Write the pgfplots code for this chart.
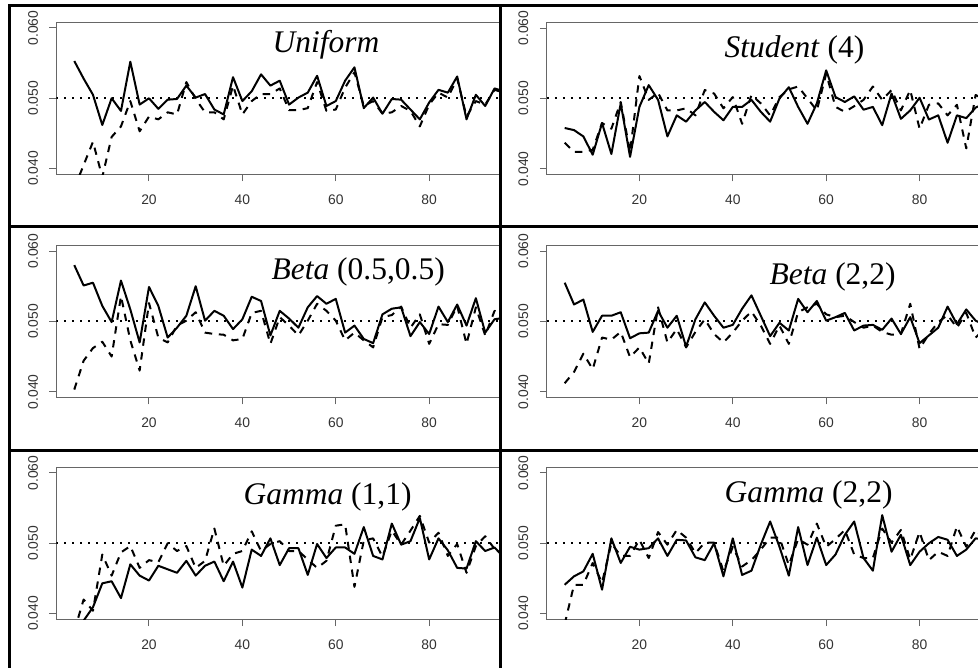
\documentclass[border=0pt]{standalone}
\usepackage{fontspec}
\setmainfont{Liberation Serif}
\newfontfamily\tickfont{Liberation Sans}
\usepackage{pgfplots}
\usepackage{pgfplotstable}
\pgfplotsset{compat=1.18}

% n, solid (a), dashed (b)
\pgfplotstableread{
n a b
4 0.0553 0.0372
6 0.0528 0.0405
8 0.0505 0.0438
10 0.0462 0.0388
12 0.0500 0.0445
14 0.0482 0.0460
16 0.0552 0.0496
18 0.0491 0.0453
20 0.0500 0.0474
22 0.0485 0.0470
24 0.0498 0.0480
26 0.0499 0.0477
28 0.0518 0.0523
30 0.0501 0.0499
32 0.0506 0.0480
34 0.0484 0.0480
36 0.0477 0.0470
38 0.0530 0.0518
40 0.0496 0.0477
42 0.0510 0.0496
44 0.0534 0.0506
46 0.0518 0.0506
48 0.0525 0.0514
50 0.0491 0.0483
52 0.0501 0.0483
54 0.0508 0.0486
56 0.0532 0.0523
58 0.0489 0.0482
60 0.0496 0.0484
62 0.0525 0.0515
64 0.0544 0.0537
66 0.0486 0.0489
68 0.0501 0.0496
70 0.0478 0.0478
72 0.0499 0.0480
74 0.0498 0.0489
76 0.0484 0.0482
78 0.0470 0.0460
80 0.0494 0.0491
82 0.0512 0.0508
84 0.0508 0.0501
86 0.0531 0.0528
88 0.0470 0.0474
90 0.0505 0.0496
92 0.0489 0.0491
94 0.0514 0.0512
96 0.0510 0.0508
}\uniform

\pgfplotstableread{
n a b
4 0.0458 0.0437
6 0.0455 0.0424
8 0.0446 0.0424
10 0.0420 0.0427
12 0.0465 0.0465
14 0.0421 0.0457
16 0.0493 0.0495
18 0.0417 0.0424
20 0.0488 0.0532
22 0.0519 0.0498
24 0.0498 0.0508
26 0.0446 0.0483
28 0.0476 0.0483
30 0.0467 0.0486
32 0.0483 0.0476
34 0.0495 0.0512
36 0.0481 0.0507
38 0.0469 0.0486
40 0.0488 0.0502
42 0.0488 0.0464
44 0.0498 0.0505
46 0.0481 0.0493
48 0.0467 0.0476
50 0.0500 0.0502
52 0.0516 0.0513
54 0.0488 0.0517
56 0.0464 0.0500
58 0.0493 0.0483
60 0.0540 0.0535
62 0.0502 0.0488
64 0.0495 0.0481
66 0.0503 0.0489
68 0.0484 0.0498
70 0.0488 0.0517
72 0.0462 0.0498
74 0.0507 0.0512
76 0.0471 0.0483
78 0.0483 0.0512
80 0.0501 0.0457
82 0.0470 0.0491
84 0.0476 0.0493
86 0.0437 0.0476
88 0.0476 0.0491
90 0.0472 0.0429
92 0.0487 0.0505
94 0.0493 0.0498
96 0.0495 0.0500
}\student

\pgfplotstableread{
n a b
4 0.0580 0.0403
6 0.0551 0.0444
8 0.0555 0.0462
10 0.0522 0.0471
12 0.0499 0.0450
14 0.0558 0.0536
16 0.0517 0.0473
18 0.0470 0.0430
20 0.0549 0.0526
22 0.0522 0.0477
24 0.0477 0.0470
26 0.0491 0.0494
28 0.0508 0.0501
30 0.0550 0.0513
32 0.0501 0.0484
34 0.0515 0.0482
36 0.0508 0.0481
38 0.0489 0.0473
40 0.0503 0.0475
42 0.0535 0.0512
44 0.0529 0.0515
46 0.0480 0.0468
48 0.0515 0.0506
50 0.0504 0.0494
52 0.0491 0.0480
54 0.0520 0.0501
56 0.0536 0.0525
58 0.0525 0.0515
60 0.0532 0.0501
62 0.0484 0.0473
64 0.0494 0.0484
66 0.0475 0.0473
68 0.0469 0.0463
70 0.0510 0.0506
72 0.0518 0.0509
74 0.0520 0.0521
76 0.0479 0.0491
78 0.0499 0.0510
80 0.0482 0.0468
82 0.0521 0.0496
84 0.0499 0.0495
86 0.0524 0.0522
88 0.0494 0.0468
90 0.0533 0.0520
92 0.0484 0.0480
94 0.0503 0.0515
96 0.0505 0.0510
}\betahalf

\pgfplotstableread{
n a b
4 0.0555 0.0412
6 0.0524 0.0428
8 0.0531 0.0454
10 0.0485 0.0432
12 0.0508 0.0477
14 0.0508 0.0474
16 0.0513 0.0485
18 0.0476 0.0449
20 0.0483 0.0463
22 0.0484 0.0440
24 0.0515 0.0520
26 0.0491 0.0470
28 0.0508 0.0489
30 0.0464 0.0463
32 0.0503 0.0485
34 0.0527 0.0503
36 0.0508 0.0482
38 0.0491 0.0470
40 0.0495 0.0484
42 0.0518 0.0501
44 0.0537 0.0514
46 0.0508 0.0494
48 0.0479 0.0468
50 0.0498 0.0494
52 0.0487 0.0468
54 0.0532 0.0513
56 0.0513 0.0520
58 0.0529 0.0525
60 0.0501 0.0510
62 0.0506 0.0506
64 0.0512 0.0508
66 0.0487 0.0499
68 0.0494 0.0491
70 0.0495 0.0494
72 0.0488 0.0485
74 0.0504 0.0481
76 0.0482 0.0482
78 0.0506 0.0525
80 0.0469 0.0461
82 0.0480 0.0482
84 0.0491 0.0499
86 0.0521 0.0509
88 0.0496 0.0491
90 0.0517 0.0512
92 0.0501 0.0477
94 0.0495 0.0490
96 0.0500 0.0495
}\betatwo

\pgfplotstableread{
n a b
4 0.0372 0.0375
6 0.0390 0.0420
8 0.0409 0.0404
10 0.0443 0.0484
12 0.0446 0.0454
14 0.0422 0.0487
16 0.0470 0.0496
18 0.0454 0.0465
20 0.0447 0.0476
22 0.0468 0.0473
24 0.0463 0.0500
26 0.0458 0.0489
28 0.0475 0.0496
30 0.0454 0.0465
32 0.0468 0.0475
34 0.0474 0.0521
36 0.0446 0.0468
38 0.0474 0.0485
40 0.0437 0.0489
42 0.0491 0.0517
44 0.0482 0.0489
46 0.0507 0.0499
48 0.0469 0.0503
50 0.0493 0.0489
52 0.0493 0.0489
54 0.0455 0.0477
56 0.0499 0.0465
58 0.0479 0.0475
60 0.0494 0.0525
62 0.0494 0.0527
64 0.0485 0.0438
66 0.0523 0.0504
68 0.0482 0.0507
70 0.0477 0.0481
72 0.0528 0.0518
74 0.0498 0.0498
76 0.0503 0.0518
78 0.0536 0.0539
80 0.0477 0.0501
82 0.0507 0.0515
84 0.0490 0.0482
86 0.0465 0.0499
88 0.0464 0.0458
90 0.0503 0.0496
92 0.0489 0.0510
94 0.0494 0.0492
96 0.0480 0.0495
}\gammaone

\pgfplotstableread{
n a b
4 0.0441 0.0385
6 0.0453 0.0441
8 0.0460 0.0441
10 0.0485 0.0472
12 0.0434 0.0444
14 0.0507 0.0500
16 0.0472 0.0482
18 0.0495 0.0482
20 0.0491 0.0505
22 0.0493 0.0479
24 0.0507 0.0516
26 0.0482 0.0498
28 0.0505 0.0519
30 0.0504 0.0508
32 0.0480 0.0486
34 0.0476 0.0501
36 0.0500 0.0501
38 0.0453 0.0460
40 0.0507 0.0495
42 0.0455 0.0467
44 0.0461 0.0476
46 0.0498 0.0491
48 0.0531 0.0508
50 0.0495 0.0508
52 0.0454 0.0469
54 0.0523 0.0506
56 0.0469 0.0498
58 0.0508 0.0528
60 0.0469 0.0495
62 0.0484 0.0506
64 0.0512 0.0519
66 0.0531 0.0484
68 0.0479 0.0479
70 0.0461 0.0479
72 0.0540 0.0521
74 0.0488 0.0501
76 0.0512 0.0519
78 0.0469 0.0477
80 0.0488 0.0516
82 0.0500 0.0476
84 0.0509 0.0488
86 0.0505 0.0482
88 0.0482 0.0524
90 0.0491 0.0495
92 0.0507 0.0519
94 0.0505 0.0505
96 0.0502 0.0500
}\gammatwo

\pgfplotsset{
  panel/.style={
    scale only axis, width=363.1pt, height=113.9pt,
    xmin=0.16, xmax=103.84, ymin=0.0392, ymax=0.0608,
    axis line style={black!60, line width=0.75pt},
    xtick={20,40,60,80}, xticklabels={20,40,60,80},
    ytick={0.04,0.05,0.06}, yticklabels={0.040,0.050,0.060},
    scaled y ticks=false, scaled x ticks=false,
    xtick pos=left, ytick pos=left,
    tick align=outside, major tick length=5.25pt,
    tick style={black!60, line width=0.75pt},
    ticklabel style={font=\tickfont\fontsize{10.4}{11}\selectfont, text=black!80},
    yticklabel style={rotate=90, anchor=south, yshift=5pt},
    xticklabel style={yshift=-6.5pt},
  },
  sol/.style={black, line width=1.5pt, line join=round},
  das/.style={black, line width=1.5pt, line join=round, dash pattern=on 5.5pt off 5pt},
  ref/.style={black, line width=1.5pt, dash pattern=on 1.5pt off 4.5pt},
}

\newcommand\panel[3]{% x0 (px), bottom (px), table
  \begin{axis}[panel, at={(#1*0.75pt,-#2*0.75pt)}, anchor=south west]
    \addplot[ref] coordinates {(0.16,0.05) (103.84,0.05)};
    \addplot[das] table[x=n,y=b] {#3};
    \addplot[sol] table[x=n,y=a] {#3};
  \end{axis}}

\begin{document}
\begin{tikzpicture}[x=0.75pt,y=-0.75pt]
  \path[use as bounding box] (0,0) rectangle (978,668);
  \fill[white] (0,0) rectangle (978,668);

  \begin{scope}\clip (10,6) rectangle (499,225);
    \panel{56.35}{174.2}{\uniform}
    \node[anchor=base west, font=\fontsize{23.6}{24}\selectfont] at (268,52) {\textit{Uniform}};
  \end{scope}
  \begin{scope}\clip (501,6) rectangle (978,225);
    \panel{546.75}{174.4}{\student}
    \node[anchor=base west, font=\fontsize{23.6}{24}\selectfont] at (720,57) {\textit{Student} (4)};
  \end{scope}
  \begin{scope}\clip (10,227) rectangle (499,449);
    \panel{56.35}{397.3}{\betahalf}
    \node[anchor=base west, font=\fontsize{23.6}{24}\selectfont] at (267,279) {\textit{Beta} (0.5,0.5)};
  \end{scope}
  \begin{scope}\clip (501,227) rectangle (978,449);
    \panel{546.75}{397.3}{\betatwo}
    \node[anchor=base west, font=\fontsize{23.6}{24}\selectfont] at (765,284) {\textit{Beta} (2,2)};
  \end{scope}
  \begin{scope}\clip (10,451) rectangle (499,668);
    \panel{56.35}{619.2}{\gammaone}
    \node[anchor=base west, font=\fontsize{23.6}{24}\selectfont] at (239,504) {\textit{Gamma} (1,1)};
  \end{scope}
  \begin{scope}\clip (501,451) rectangle (978,668);
    \panel{546.75}{619.2}{\gammatwo}
    \node[anchor=base west, font=\fontsize{23.6}{24}\selectfont] at (720,502) {\textit{Gamma} (2,2)};
  \end{scope}

  % table rules
  \draw[line width=2.25pt] (9,4) -- (9,668);
  \draw[line width=2.25pt] (500,4) -- (500,668);
  \draw[line width=2.25pt] (8,5) -- (978,5);
  \draw[line width=2.25pt] (8,226) -- (978,226);
  \draw[line width=2.25pt] (8,450) -- (978,450);
\end{tikzpicture}
\end{document}
